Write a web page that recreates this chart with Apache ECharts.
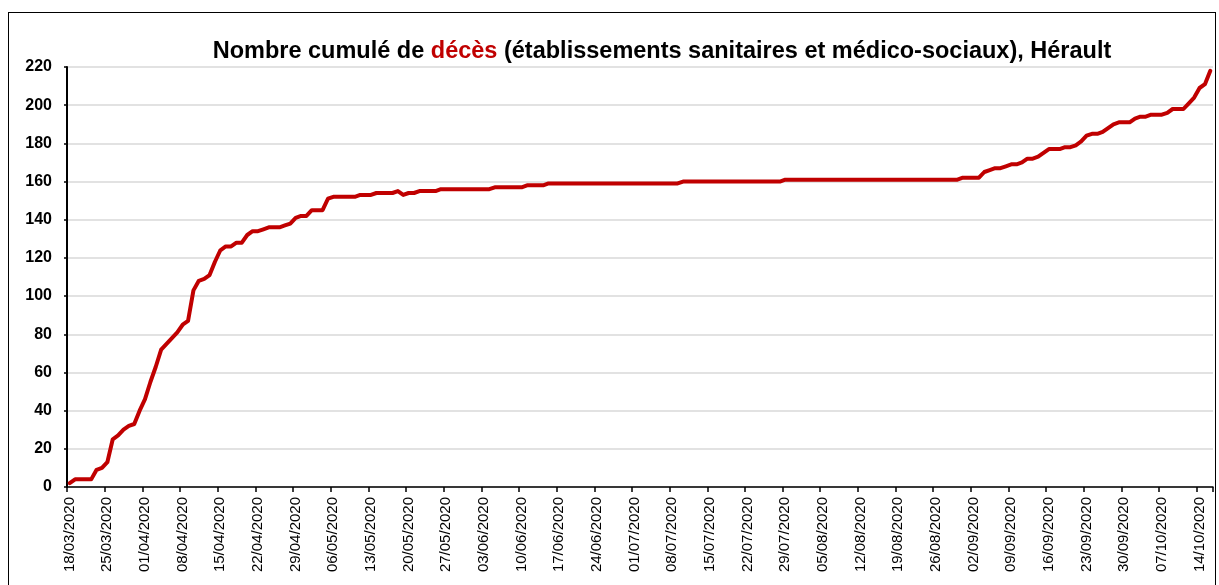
<!DOCTYPE html>
<html>
<head>
<meta charset="utf-8">
<title>Décès cumulés Hérault</title>
<script src="https://cdn.jsdelivr.net/npm/echarts@6/dist/echarts.min.js"></script>
<style>
  html, body { margin: 0; padding: 0; background: #fff; }
  .frame {
    position: absolute;
    left: 8px; top: 12px;
    width: 1208px; height: 600px;
    border: 1px solid #000;
    box-sizing: border-box;
  }
  #lineChart {
    position: absolute;
    left: 0; top: 0;
    width: 1219px; height: 585px;
  }
</style>
</head>
<body>
<div class="frame"></div>
<div id="lineChart"></div>

<script>
// premier jour et nombre de jours de la série
var startDate = '2020-03-18';
var nbDays = 213;

// nombre cumulé de décès, un point par jour
var deces = [
  2, 4, 4, 4, 4, 9, 10, 13, 25, 27,
  30, 32, 33, 40, 46, 55, 63, 72, 75, 78,
  81, 85, 87, 103, 108, 109, 111, 118, 124, 126,
  126, 128, 128, 132, 134, 134, 135, 136, 136, 136,
  137, 138, 141, 142, 142, 145, 145, 145, 151, 152,
  152, 152, 152, 152, 153, 153, 153, 154, 154, 154,
  154, 155, 153, 154, 154, 155, 155, 155, 155, 156,
  156, 156, 156, 156, 156, 156, 156, 156, 156, 157,
  157, 157, 157, 157, 157, 158, 158, 158, 158, 159,
  159, 159, 159, 159, 159, 159, 159, 159, 159, 159,
  159, 159, 159, 159, 159, 159, 159, 159, 159, 159,
  159, 159, 159, 159, 160, 160, 160, 160, 160, 160,
  160, 160, 160, 160, 160, 160, 160, 160, 160, 160,
  160, 160, 160, 161, 161, 161, 161, 161, 161, 161,
  161, 161, 161, 161, 161, 161, 161, 161, 161, 161,
  161, 161, 161, 161, 161, 161, 161, 161, 161, 161,
  161, 161, 161, 161, 161, 161, 162, 162, 162, 162,
  165, 166, 167, 167, 168, 169, 169, 170, 172, 172,
  173, 175, 177, 177, 177, 178, 178, 179, 181, 184,
  185, 185, 186, 188, 190, 191, 191, 191, 193, 194,
  194, 195, 195, 195, 196, 198, 198, 198, 201, 204,
  209, 211, 218
];

// axe Y
var yMin = 0;
var yMax = 220;
var yStep = 20;

// dates jj/mm/aaaa
function pad(n) { return n < 10 ? '0' + n : '' + n; }
var dates = [];
var d0 = new Date(startDate + 'T00:00:00Z');
for (var i = 0; i < nbDays; i++) {
  var d = new Date(d0.getTime() + i * 86400000);
  dates.push(pad(d.getUTCDate()) + '/' + pad(d.getUTCMonth() + 1) + '/' + d.getUTCFullYear());
}

var chart = echarts.init(document.getElementById('lineChart'));

var option = {
  animation: false,
  title: {
    text: '{b|Nombre cumulé de }{r|décès}{b| (établissements sanitaires et médico-sociaux), Hérault}',
    left: 657,
    textAlign: 'center',
    top: 35,
    textStyle: {
      rich: {
        b: { fontFamily: 'Liberation Sans', fontWeight: 'bold', fontSize: 23.5, color: '#000' },
        r: { fontFamily: 'Liberation Sans', fontWeight: 'bold', fontSize: 23.5, color: '#c00000' }
      }
    }
  },
  grid: {
    left: 67,
    right: 6,
    top: 67,
    bottom: 98
  },
  xAxis: {
    type: 'category',
    data: dates,
    boundaryGap: true,
    axisLine: { show: true, lineStyle: { color: '#000', width: 1.5 } },
    axisTick: { show: true, interval: 6, length: 5, lineStyle: { color: '#000', width: 1.5 } },
    axisLabel: {
      interval: 6,
      rotate: 90,
      margin: 10,
      color: '#000',
      fontSize: 15,
      fontFamily: 'Liberation Sans'
    },
    splitLine: { show: false }
  },
  yAxis: {
    type: 'value',
    min: yMin,
    max: yMax,
    interval: yStep,
    axisLine: { show: true, lineStyle: { color: '#000', width: 2 } },
    axisTick: { show: true, length: 3, lineStyle: { color: '#000', width: 1.5 } },
    axisLabel: {
      color: '#000',
      fontSize: 16,
      fontWeight: 'bold',
      fontFamily: 'Liberation Sans',
      margin: 15
    },
    splitLine: { show: true, lineStyle: { color: '#d9d9d9', width: 1.5 } }
  },
  series: [
    {
      name: 'Décès',
      type: 'line',
      data: deces,
      symbol: 'none',
      smooth: false,
      lineStyle: { color: '#c00000', width: 4, join: 'round', cap: 'round' },
      itemStyle: { color: '#c00000' }
    }
  ]
};

chart.setOption(option);
</script>
</body>
</html>
